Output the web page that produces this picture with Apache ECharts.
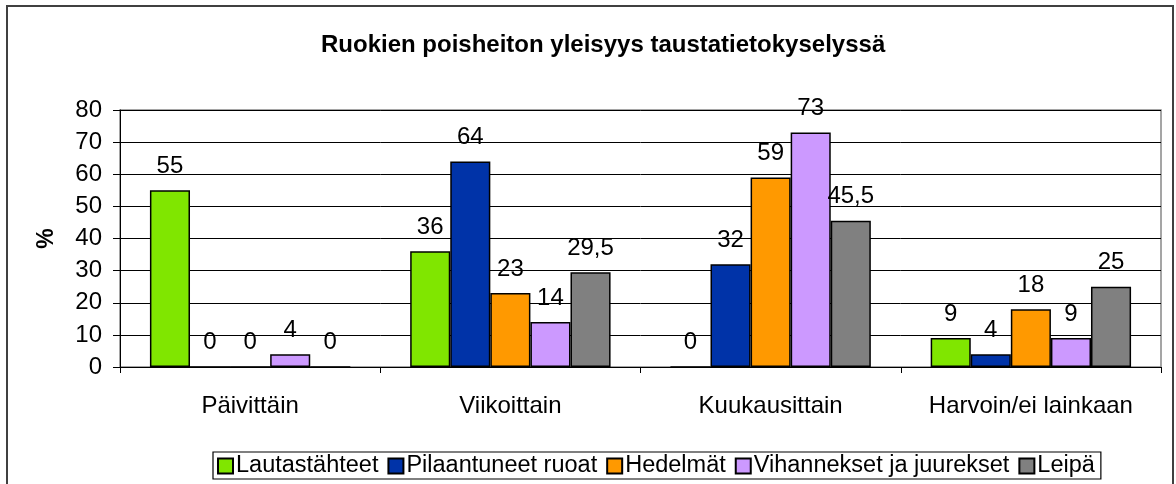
<!DOCTYPE html>
<html><head><meta charset="utf-8">
<script src="https://cdn.jsdelivr.net/npm/echarts@6/dist/echarts.min.js"></script>
<style>html,body{margin:0;padding:0;background:#fff}#c{width:1176px;height:484px}</style>
</head><body><div id="c"></div>
<script>
const categories = ['Päivittäin', 'Viikoittain', 'Kuukausittain', 'Harvoin/ei lainkaan'];
const seriesNames = ['Lautastähteet', 'Pilaantuneet ruoat', 'Hedelmät', 'Vihannekset ja juurekset', 'Leipä'];
const lautastahteet = [55, 36, 0, 9];
const pilaantuneet = [0, 64, 32, 4];
const hedelmat = [0, 23, 59, 18];
const vihannekset = [4, 14, 73, 9];
const leipa = [0, 29.5, 45.5, 25];
const colors = ['#80E600', '#0033A8', '#FF9900', '#CC99FF', '#808080'];
const yTicks = [0, 80, 10];

const allData = [lautastahteet, pilaantuneet, hedelmat, vihannekset, leipa];
const font = 'Liberation Sans, Arial, sans-serif';
const chart = echarts.init(document.getElementById('c'));
chart.setOption({
  animation: false,
  backgroundColor: '#fff',
  title: {
    text: 'Ruokien poisheiton yleisyys taustatietokyselyssä',
    left: 316, top: 28,
    textStyle: { fontFamily: font, fontSize: 24, fontWeight: 'bold', color: '#000' }
  },
  graphic: [{
    type: 'rect', shape: { x: 7, y: 6, width: 1166, height: 490 },
    style: { fill: 'none', stroke: '#404040', lineWidth: 2 }, z: -1
  }],
  grid: { left: 120, right: 15, top: 110, bottom: 117, show: true, borderColor: '#888', borderWidth: 1.5 },
  legend: {
    top: 452, left: 213,
    data: seriesNames,
    icon: 'rect', itemWidth: 15, itemHeight: 15, itemGap: 9,
    padding: [2, 6, 1, 4],
    borderColor: '#000', borderWidth: 1.2,
    textStyle: { fontFamily: font, fontSize: 23.5, color: '#000', padding: [0, 0, 0, -2] }
  },
  xAxis: {
    type: 'category', data: categories,
    axisLine: { lineStyle: { color: '#000', width: 1 } },
    axisTick: { show: true, length: 6, lineStyle: { color: '#000' } },
    axisLabel: { fontFamily: font, fontSize: 24, color: '#000', margin: 27, interval: 0 }
  },
  yAxis: {
    type: 'value', min: yTicks[0], max: yTicks[1], interval: yTicks[2],
    name: '%', nameLocation: 'middle', nameGap: 62, nameRotate: 90,
    nameTextStyle: { fontFamily: font, fontSize: 23, fontWeight: 'bold', color: '#000' },
    axisLine: { show: true, lineStyle: { color: '#000' } },
    axisTick: { show: true, length: 7, lineStyle: { color: '#000' } },
    axisLabel: { fontFamily: font, fontSize: 24, color: '#000', margin: 18 },
    splitLine: { lineStyle: { color: '#000', width: 1 } }
  },
  series: seriesNames.map((n, i) => ({
    name: n, type: 'bar', data: allData[i],
    barGap: '0%', barCategoryGap: '23%',
    itemStyle: { color: colors[i], borderColor: '#000', borderWidth: 1.5 },
    label: {
      show: true, position: 'top', distance: 12,
      fontFamily: font, fontSize: 24, color: '#000',
      formatter: p => String(p.value).replace('.', ',')
    }
  }))
});
</script></body></html>
